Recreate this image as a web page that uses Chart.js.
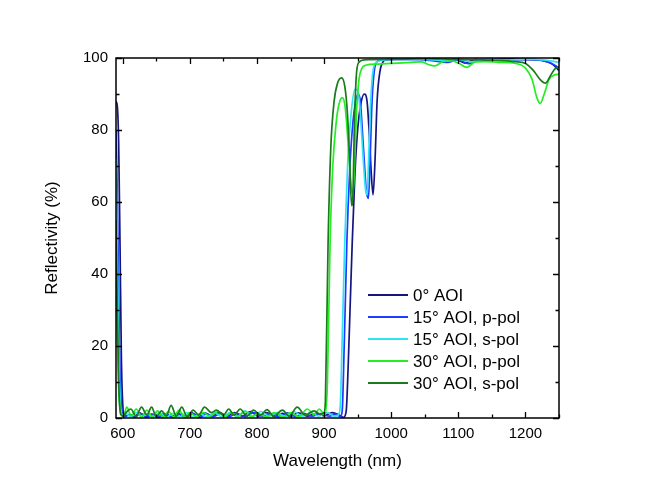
<!DOCTYPE html>
<html>
<head>
<meta charset="utf-8">
<script src="https://cdn.jsdelivr.net/npm/chart.js@4/dist/chart.umd.min.js"></script>
<style>
  html, body { margin: 0; padding: 0; background: #fff; }
  #wrap { width: 650px; height: 502px; }
</style>
</head>
<body>
<div id="wrap"><canvas id="c" width="650" height="502"></canvas></div>
<script>
'use strict';

// series labels and colours
let labels = ['0° AOI', '15° AOI, p-pol', '15° AOI, s-pol', '30° AOI, p-pol', '30° AOI, s-pol'];
let colors = ['#15157f', '#1e3cff', '#2fe3f2', '#22ee22', '#1b7a1b'];

// x ticks (nm) and y ticks (%)
let xTicks = [600, 700, 800, 900, 1000, 1100, 1200];
let yTicks = [0, 20, 40, 60, 80, 100];

// 0° AOI
let wl0 = [590, 592, 594, 596, 598, 600, 603, 610, 617, 625, 634, 643, 652, 662, 672, 682, 692, 702, 712, 722, 733, 744, 755, 766, 778, 790, 802, 814, 826, 838, 850, 862, 875, 888, 900, 912, 922, 929, 933, 936, 939, 942, 946, 950, 955, 960, 964, 967, 970, 973, 976, 979, 983, 988, 995, 1020, 1060, 1080, 1095, 1110, 1125, 1150, 1170, 1200, 1225, 1240, 1250];
let r0 = [88, 86.5, 76, 48, 17, 4, 0.5, 0.9, 0.2, 1.4, 0.3, 1.1, 0.2, 1.2, 0.3, 1.3, 0.3, 1.5, 0.3, 1.4, 0.4, 1.6, 0.4, 1.5, 0.5, 1.8, 0.5, 1.5, 0.4, 1.3, 0.5, 1.4, 0.5, 1.3, 0.6, 1.5, 0.9, 0.2, 2, 15, 32, 49, 68, 80, 87.5, 90, 88, 80, 69, 62, 72, 88, 96, 99, 99.6, 99.8, 99.6, 99.2, 99.7, 98.6, 99.6, 99.4, 99.8, 99.6, 99.3, 98.3, 96.5];

// 15° AOI, p-pol
let wl1 = [590, 592, 594, 596, 599, 603, 610, 618, 627, 636, 645, 655, 665, 675, 685, 695, 705, 715, 725, 735, 746, 758, 770, 782, 795, 808, 820, 832, 845, 858, 870, 882, 895, 908, 918, 924, 927, 930, 934, 938, 942, 947, 951, 954, 957, 960, 963, 966, 968, 971, 974, 978, 985, 1010, 1050, 1085, 1100, 1115, 1130, 1150, 1180, 1210, 1235, 1250];
let r1 = [80, 62, 35, 12, 2, 0.4, 1, 0.2, 1.2, 0.2, 1, 0.3, 1.1, 0.2, 1, 0.3, 1.2, 0.2, 1.2, 0.4, 1.3, 0.3, 1.3, 0.4, 1.5, 0.5, 1.2, 0.3, 1.4, 0.4, 1.3, 0.5, 1.2, 0.5, 1.1, 0.3, 2, 20, 49, 68, 80, 88, 90, 88, 80, 71, 63, 61, 68, 86, 95, 98.8, 99.4, 99.6, 99.5, 98.8, 99.5, 98.4, 99.4, 99.7, 99.5, 99.6, 98.8, 97.3];

// 15° AOI, s-pol
let wl2 = [590, 592, 594, 596, 599, 605, 612, 620, 628, 636, 645, 655, 665, 675, 685, 695, 705, 715, 725, 737, 748, 760, 770, 782, 794, 806, 818, 830, 842, 855, 868, 880, 892, 905, 915, 921, 924, 927, 931, 935, 940, 946, 950, 953, 956, 959, 962, 964, 966, 969, 972, 976, 985, 1010, 1050, 1080, 1100, 1120, 1140, 1170, 1200, 1230, 1250];
let r2 = [72, 45, 20, 6, 1, 1.2, 0.3, 1.5, 0.3, 1.2, 0.2, 1.5, 0.2, 1.3, 0.3, 1.5, 0.2, 1.2, 0.3, 1.4, 0.3, 1.5, 0.3, 2, 0.5, 1.8, 0.5, 1.5, 0.3, 1.8, 0.5, 1.5, 0.5, 1.5, 0.5, 0.8, 3, 22, 50, 70, 84, 91.3, 91, 87, 79, 70, 63, 62, 70, 86, 95, 98.5, 99.3, 99.7, 99.6, 99.3, 99.6, 98.9, 99.6, 99.4, 99.7, 99.4, 98.8];

// 30° AOI, p-pol
let wl3 = [590, 592, 594, 597, 601, 606, 613, 620, 628, 636, 644, 652, 660, 668, 676, 684, 692, 700, 710, 720, 730, 742, 752, 762, 772, 782, 792, 802, 814, 826, 838, 850, 862, 875, 885, 893, 899, 902, 905, 909, 913, 918, 922, 927, 931, 934, 937, 940, 943, 945, 948, 952, 956, 962, 980, 1000, 1030, 1045, 1055, 1065, 1077, 1090, 1100, 1113, 1125, 1140, 1160, 1185, 1200, 1210, 1217, 1222, 1228, 1235, 1243, 1250];
let r3 = [45, 22, 8, 1.5, 0.5, 3, 0.5, 2.5, 0.3, 2.2, 0.3, 2, 0.2, 1.8, 0.4, 2.2, 0.3, 1.5, 0.3, 1.5, 0.5, 1.8, 0.3, 1.5, 0.5, 1.8, 0.3, 1.2, 0.3, 1.5, 0.2, 1.5, 0.3, 2.5, 1, 2.5, 1.2, 1, 10, 49, 70, 82, 87, 89, 87, 81, 73, 65, 62, 68, 84, 94, 97, 98, 98.3, 98.5, 98.8, 98.9, 98.2, 97.8, 99, 99.2, 98.6, 97.4, 98.9, 99, 98.8, 98.5, 97.2, 94, 89, 87.4, 90, 94, 95.3, 95.5];

// 30° AOI, s-pol
let wl4 = [590, 592, 594, 597, 601, 605, 612, 620, 628, 636, 643, 650, 658, 665, 672, 680, 688, 696, 705, 713, 722, 732, 740, 750, 758, 766, 775, 785, 795, 805, 815, 825, 838, 848, 860, 872, 885, 895, 900, 902, 906, 910, 915, 920, 926, 931, 935, 938, 941, 943, 945, 948, 952, 960, 1000, 1050, 1100, 1150, 1185, 1200, 1212, 1222, 1230, 1237, 1244, 1250];
let r4 = [55, 30, 10, 1, 0.5, 1.5, 2.5, 0.5, 3, 0.8, 3, 0.3, 2, 0.5, 3.5, 0.5, 3, 0.3, 2.2, 0.8, 3, 1.5, 2.2, 0.8, 2.5, 0.8, 2.5, 0.5, 2.2, 0.8, 2.3, 0.5, 2.2, 0.5, 3, 0.8, 2, 1, 1.5, 5, 49, 75, 88, 93, 94.5, 92, 84, 72, 59, 62, 80, 95, 98.8, 99.5, 99.6, 99.8, 99.6, 99.4, 99, 98.5, 96.5, 94, 93, 95, 97, 97.5];

let wls = [wl0, wl1, wl2, wl3, wl4];
let refl = [r0, r1, r2, r3, r4];

let datasets = labels.map((name, i) => ({
  label: name,
  data: wls[i].map((w, j) => ({ x: w, y: refl[i][j] })),
  borderColor: colors[i],
  backgroundColor: colors[i],
  borderWidth: 1.7,
  pointRadius: 0,
  cubicInterpolationMode: 'monotone',
  order: labels.length - i
}));

let font = 'Arial, "Liberation Sans", sans-serif';

// frame + inward ticks on all four sides, major and minor
let framePlugin = {
  id: 'frame',
  afterDraw(chart) {
    let ctx = chart.ctx;
    let a = chart.chartArea;
    let xs = chart.scales.x, ys = chart.scales.y;
    ctx.save();
    ctx.strokeStyle = '#000';
    ctx.lineWidth = 1.3;
    ctx.beginPath();
    for (let v = 600; v <= 1250; v += 50) {
      let px = Math.round(xs.getPixelForValue(v)) + 0.5;
      let len = xTicks.includes(v) ? 6 : 3.5;
      ctx.moveTo(px, a.bottom); ctx.lineTo(px, a.bottom - len);
      ctx.moveTo(px, a.top); ctx.lineTo(px, a.top + len);
    }
    for (let v = 0; v <= 100; v += 10) {
      let py = Math.round(ys.getPixelForValue(v)) + 0.5;
      let len = yTicks.includes(v) ? 6 : 3.5;
      ctx.moveTo(a.left, py); ctx.lineTo(a.left + len, py);
      ctx.moveTo(a.right, py); ctx.lineTo(a.right - len, py);
    }
    ctx.stroke();
    ctx.lineWidth = 1.5;
    ctx.strokeRect(a.left, a.top, a.right - a.left, a.bottom - a.top);

    // legend inside the plot
    ctx.font = '17px ' + font;
    ctx.textBaseline = 'middle';
    ctx.fillStyle = '#000';
    chart.data.datasets.forEach((ds, i) => {
      let y = 295 + i * 22;
      ctx.strokeStyle = ds.borderColor;
      ctx.lineWidth = 1.8;
      ctx.beginPath();
      ctx.moveTo(368, y); ctx.lineTo(408, y);
      ctx.stroke();
      ctx.fillText(ds.label, 413, y + 1);
    });
    ctx.restore();
  }
};

new Chart(document.getElementById('c'), {
  type: 'line',
  data: { datasets: datasets },
  options: {
    responsive: false,
    animation: false,
    layout: { padding: { left: 0, top: 58, right: 91, bottom: 0 } },
    plugins: { legend: { display: false }, tooltip: { enabled: false } },
    scales: {
      x: {
        type: 'linear',
        min: 590,
        max: 1250,
        grid: { display: false, drawTicks: false },
        border: { display: false },
        afterFit: (s) => { s.height = 84; },
        afterBuildTicks: (s) => { s.ticks = xTicks.map(v => ({ value: v })); },
        ticks: { includeBounds: false, padding: 7, color: '#000', font: { family: font, size: 15 }, maxRotation: 0, callback: (v) => String(v) },
        title: { display: true, text: 'Wavelength (nm)', color: '#000', font: { family: font, size: 17 }, padding: { top: 0, bottom: 30 } }
      },
      y: {
        type: 'linear',
        min: 0,
        max: 100,
        grid: { display: false, drawTicks: false },
        border: { display: false },
        afterFit: (s) => { s.width = 116; },
        afterBuildTicks: (s) => { s.ticks = yTicks.map(v => ({ value: v })); },
        ticks: { padding: 8, color: '#000', font: { family: font, size: 15 }, callback: (v) => String(v) },
        title: { display: true, text: 'Reflectivity (%)', color: '#000', font: { family: font, size: 17 }, padding: { top: 42, bottom: 0 } }
      }
    }
  },
  plugins: [framePlugin]
});
</script>
</body>
</html>
